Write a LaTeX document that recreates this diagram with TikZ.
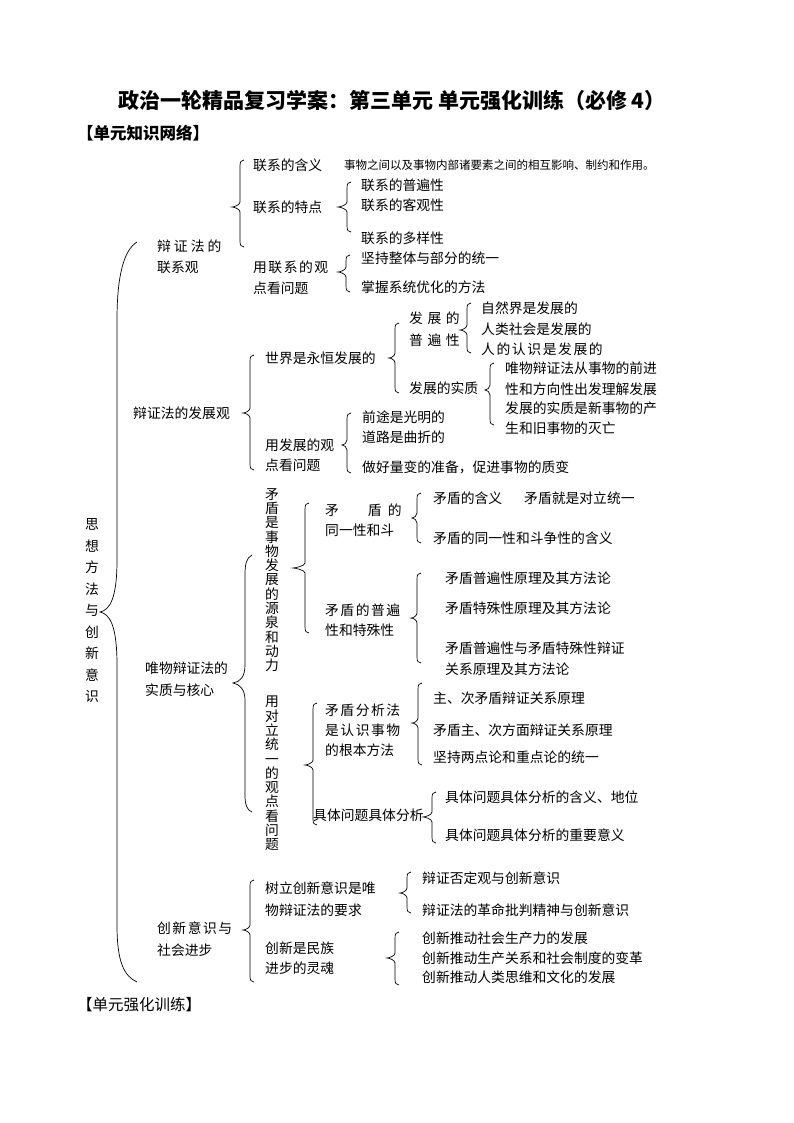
\documentclass[tikz,border=0pt]{standalone}
\usepackage{fontspec}
\setmainfont{Noto Sans CJK SC}
\newcommand\gp{\hspace{3pt}}
\newcommand\mybrace[5]{\draw[brc] (#1+4,#2) .. controls (#1+1,#2) and (#1,#2+2) .. (#1,#2+6) -- (#1,#4-5) .. controls (#1,#4-2) and (#3+2,#4) .. (#3,#4) .. controls (#3+2,#4) and (#1,#4+2) .. (#1,#4+5) -- (#1,#5-6) .. controls (#1,#5-2) and (#1+1,#5) .. (#1+4,#5);}
\begin{document}
\begin{tikzpicture}[x=1pt,y=-1pt,
  txt/.style={anchor=west,inner sep=0pt,font=\fontsize{13.8}{16}\selectfont},
  small/.style={anchor=west,inner sep=0pt,font=\fontsize{11.5}{14}\selectfont},
  vtxt/.style={anchor=north,inner sep=0pt,align=center,font=\fontsize{13.8}{14.3}\selectfont},
  brc/.style={draw=black,line width=0.7pt}]
\useasboundingbox (0,0) rectangle (794,1123);
% headings
\node[inner sep=0pt,font=\fontsize{21}{24}\selectfont\bfseries] (title) at (392,100) {政治一轮精品复习学案：第三单元 单元强化训练（必修 4）};
\node[anchor=west,inner sep=0pt,font=\fontsize{16.5}{18}\selectfont\bfseries] (h1) at (77,133) {【单元知识网络】};
\node[anchor=west,inner sep=0pt,font=\fontsize{15.5}{18}\selectfont] (h2) at (77,1005) {【单元强化训练】};
% root
\node[vtxt,font=\fontsize{13.8}{21.5}\selectfont] (root) at (92,518.5) {思\\想\\方\\法\\与\\创\\新\\意\\识};
\draw[brc] (137,242) .. controls (124,250) and (117,275) .. (117,320) -- (117,560) .. controls (117,598) and (110,610) .. (100,612) .. controls (110,614) and (117,626) .. (117,665) -- (117,925) .. controls (117,962) and (124,976) .. (137,982);
% branch 1
\node[txt] (a1) at (157,246) {辩\gp 证\gp 法\gp 的};
\node[txt] (a2) at (157,267) {联系观};
\mybrace{240}{160}{232}{207}{247}
\node[txt] (a11) at (253,165) {联系的含义};
\node[small] (a11d) at (344,165) {事物之间以及事物内部诸要素之间的相互影响、制约和作用。};
\node[txt] (a12) at (253,207) {联系的特点};
\node[txt] (a13) at (253,267) {用\hspace{1.5pt}联\hspace{1.5pt}系\hspace{1.5pt}的\hspace{1.5pt}观};
\node[txt] (a13b) at (253,288) {点看问题};
\mybrace{347}{182}{338}{207}{232}
\node[txt] (a121) at (361,185) {联系的普遍性};
\node[txt] (a122) at (361,205) {联系的客观性};
\node[txt] (a123) at (361,238) {联系的多样性};
\mybrace{346}{255}{338}{272}{292}
\node[txt] (a131) at (361,258) {坚持整体与部分的统一};
\node[txt] (a132) at (361,287) {掌握系统优化的方法};
% branch 2
\node[txt] (b1) at (133,413) {辩证法的发展观};
\mybrace{250}{355}{243}{413}{470}
\node[txt] (b11) at (265,358) {世界是永恒发展的};
\node[txt] (b12) at (265,445) {用发展的观};
\node[txt] (b12b) at (265,465) {点看问题};
\mybrace{395}{323}{389}{358}{393}
\node[txt] (b111) at (409,318) {发\hspace{4.5pt}展\hspace{4.5pt}的};
\node[txt] (b111b) at (409,340) {普\hspace{4.5pt}遍\hspace{4.5pt}性};
\mybrace{467}{303}{460}{330}{353}
\node[txt] (b1111) at (481,308) {自然界是发展的};
\node[txt] (b1112) at (481,329) {人类社会是发展的};
\node[txt] (b1113) at (481,349) {人\hspace{1.6pt}的\hspace{1.6pt}认\hspace{1.6pt}识\hspace{1.6pt}是\hspace{1.6pt}发\hspace{1.6pt}展\hspace{1.6pt}的};
\node[txt] (b112) at (409,388) {发展的实质};
\mybrace{490}{363}{485}{390}{425}
\node[txt] (b1121) at (505,368) {唯物辩证法从事物的前进};
\node[txt] (b1122) at (505,389) {性和方向性出发理解发展};
\node[txt] (b1123) at (505,408) {发展的实质是新事物的产};
\node[txt] (b1124) at (505,428) {生和旧事物的灭亡};
\mybrace{347}{413}{342}{445}{473}
\node[txt] (b121) at (362,417) {前途是光明的};
\node[txt] (b122) at (362,437) {道路是曲折的};
\node[txt] (b123) at (362,467) {做好量变的准备，促进事物的质变};
% branch 3
\node[txt] (c1) at (145,668) {唯物辩证法的};
\node[txt] (c1b) at (145,690) {实质与核心};
\draw[brc] (252,555) .. controls (246,558) and (245,565) .. (245,575) -- (245,665) .. controls (245,677) and (240,682) .. (233,683) .. controls (240,684) and (245,690) .. (245,700) -- (245,795) .. controls (245,805) and (247,810) .. (252,812);
\node[vtxt] (c11) at (272,488) {矛\\盾\\是\\事\\物\\发\\展\\的\\源\\泉\\和\\动\\力};
\node[vtxt] (c12) at (272,696) {用\\对\\立\\统\\一\\的\\观\\点\\看\\问\\题};
\mybrace{305}{503}{293}{568}{633}
\node[txt] (c111) at (325,510) {矛\hspace{29pt}盾\hspace{6pt}的};
\node[txt] (c111b) at (325,530) {同一性和斗};
\node[txt] (c112) at (325,610) {矛\hspace{1.5pt}盾\hspace{1.5pt}的\hspace{1.5pt}普\hspace{1.5pt}遍};
\node[txt] (c112b) at (325,630) {性和特殊性};
\mybrace{417}{493}{412}{518}{543}
\node[txt] (c1111) at (433,498) {矛盾的含义};
\node[txt] (c1111d) at (524,498) {矛盾就是对立统一};
\node[txt] (c1112) at (433,538) {矛盾的同一性和斗争性的含义};
\mybrace{417}{573}{411}{618}{663}
\node[txt] (c1121) at (445,578) {矛盾普遍性原理及其方法论};
\node[txt] (c1122) at (445,608) {矛盾特殊性原理及其方法论};
\node[txt] (c1123) at (445,648) {矛盾普遍性与矛盾特殊性辩证};
\node[txt] (c1123b) at (445,669) {关系原理及其方法论};
\mybrace{313}{703}{305}{765}{825}
\node[txt] (c121) at (325,710) {矛\hspace{1.5pt}盾\hspace{1.5pt}分\hspace{1.5pt}析\hspace{1.5pt}法};
\node[txt] (c121b) at (325,730) {是\hspace{1.5pt}认\hspace{1.5pt}识\hspace{1.5pt}事\hspace{1.5pt}物};
\node[txt] (c121c) at (325,750) {的根本方法};
\mybrace{418}{683}{412}{723}{765}
\node[txt] (c1211) at (433,698) {主、次矛盾辩证关系原理};
\node[txt] (c1212) at (433,730) {矛盾主、次方面辩证关系原理};
\node[txt] (c1213) at (433,757) {坚持两点论和重点论的统一};
\node[txt] (c122) at (313,815) {具体问题具体分析};
\mybrace{432}{792}{423}{817}{843}
\node[txt] (c1221) at (445,797) {具体问题具体分析的含义、地位};
\node[txt] (c1222) at (445,835) {具体问题具体分析的重要意义};
% branch 4
\node[txt] (d1) at (157,928) {创\hspace{1.5pt}新\hspace{1.5pt}意\hspace{1.5pt}识\hspace{1.5pt}与};
\node[txt] (d1b) at (157,950) {社会进步};
\mybrace{250}{880}{243}{930}{982}
\node[txt] (d11) at (265,888) {树立创新意识是唯};
\node[txt] (d11b) at (265,910) {物辩证法的要求};
\node[txt] (d12) at (265,948) {创新是民族};
\node[txt] (d12b) at (265,968) {进步的灵魂};
\mybrace{407}{872}{400}{893}{913}
\node[txt] (d111) at (422,878) {辩证否定观与创新意识};
\node[txt] (d112) at (422,910) {辩证法的革命批判精神与创新意识};
\mybrace{395}{932}{387}{958}{985}
\node[txt] (d121) at (422,938) {创新推动社会生产力的发展};
\node[txt] (d122) at (422,958) {创新推动生产关系和社会制度的变革};
\node[txt] (d123) at (422,977) {创新推动人类思维和文化的发展};
\end{tikzpicture}
\end{document}
